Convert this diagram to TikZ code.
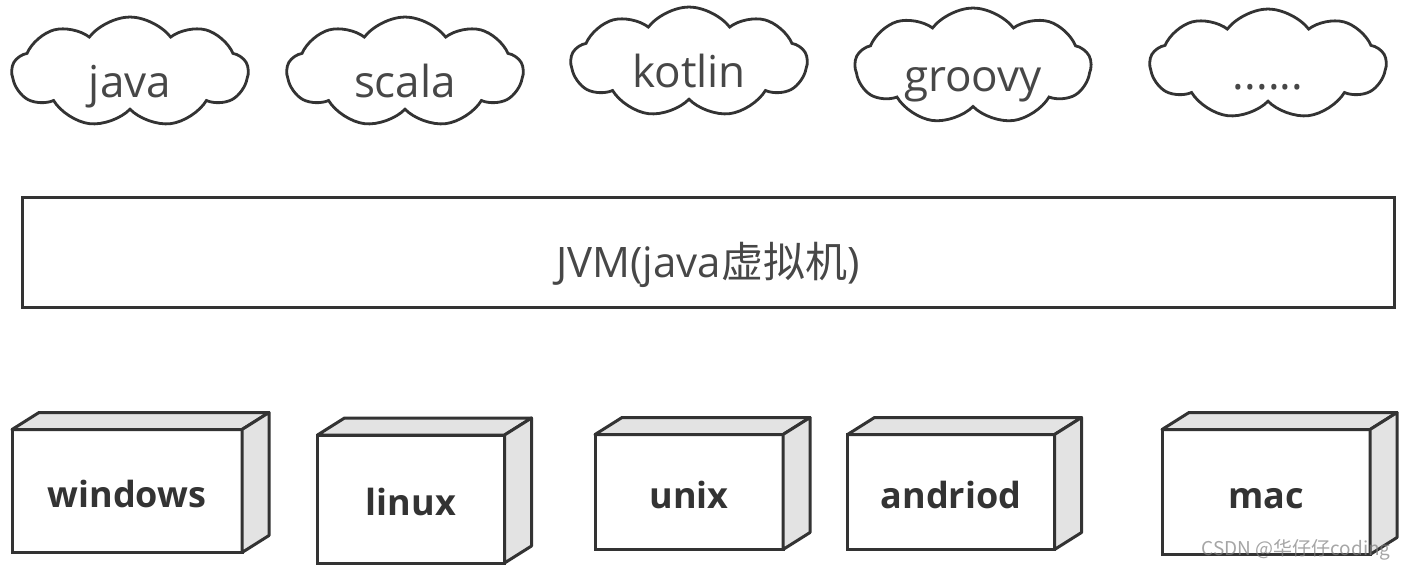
\documentclass[tikz,border=0pt]{standalone}
\usepackage{fontspec}
\setmainfont{Open Sans}
\newfontfamily\cjk{Noto Sans CJK SC}
\usetikzlibrary{shapes.symbols}

\definecolor{ink}{HTML}{333333}
\definecolor{shade}{HTML}{E3E3E3}
\newcommand\moredots{......}

\tikzset{
    lang/.style={cloud, draw=ink, line width=1.4pt, cloud puffs=9,
        cloud puff arc=105, aspect=2.2, minimum width=118pt,
        minimum height=55pt, inner sep=0pt, text=ink!90,
        text height=25pt, text depth=0pt,
        font=\fontsize{22}{24}\selectfont},
    jvmbox/.style={draw=ink, line width=1.5pt, minimum width=686pt,
        minimum height=55pt, text=ink!90, text height=25pt,
        text depth=0pt, font=\fontsize{21}{24}\selectfont},
    osbox/.style={draw=ink, line width=1.5pt, fill=white, outer sep=0pt,
        text=ink, text height=16pt, text depth=0pt,
        font=\bfseries\fontsize{18}{20}\selectfont},
    face/.style={draw=ink, line width=1.5pt, fill=shade, line join=round}
}

\begin{document}
\begin{tikzpicture}[x=0.5pt,y=-0.5pt]
    \useasboundingbox (0,0) rectangle (1406,570);

    % languages on top of the JVM
    \foreach \n/\cx/\cy/\t in {java/130/72/java, scala/405/72/scala,
        kotlin/689/62/kotlin, groovy/973/66/groovy, more/1268/64/\moredots}
        \node[lang] (\n) at (\cx,\cy) {\t};

    % the virtual machine
    \node[jvmbox] (jvm) at (708,252) {JVM(java{\cjk 虚拟机})};

    % operating systems, drawn as boxes with a top and a side face
    \foreach \n/\cx/\cy/\w/\h/\t in {win/127/491/230/123/windows,
        linux/411/499/187/128/linux, unix/689/492/188/115/unix,
        andr/951/492/207/115/andriod, mac/1266/492/208/125/mac} {
        \node[osbox, minimum width=\w*0.5pt, minimum height=\h*0.5pt]
            (\n) at (\cx,\cy) {\t};
        \filldraw[face] (\n.north west) -- ++(27,-17) -- ++(\w,0)
            -- (\n.north east) -- cycle;
        \filldraw[face] (\n.north east) -- ++(27,-17) -- ++(0,\h)
            -- (\n.south east) -- cycle;
    }

    % watermark
    \node[text=gray, opacity=0.7, font=\cjk\fontsize{9.5}{10}\selectfont]
        (mark) at (1296,550) {CSDN @华仔仔coding};
\end{tikzpicture}
\end{document}
